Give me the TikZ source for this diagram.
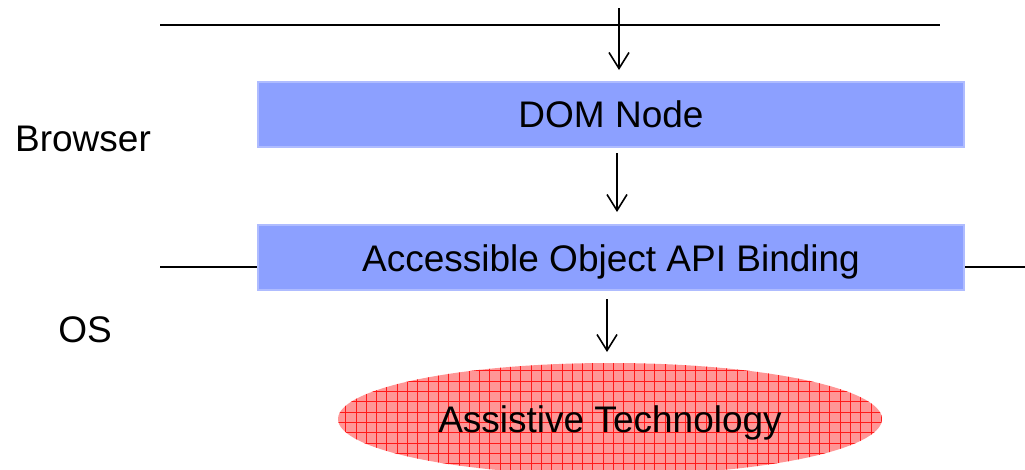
\documentclass[tikz,border=0pt]{standalone}
\usepackage{fontspec}
\setmainfont{Liberation Sans}
\usetikzlibrary{arrows.meta,shapes.geometric}
\definecolor{boxblue}{RGB}{140,160,255}
\definecolor{boxedge}{RGB}{175,188,255}
\definecolor{atpink}{RGB}{255,150,150}
\definecolor{atred}{RGB}{255,25,25}
\tikzset{
  layerbox/.style={draw=boxedge, line width=2pt, fill=boxblue, minimum width=706pt, minimum height=65pt, inner sep=0pt, text height=27pt, text depth=0pt, font=\fontsize{37}{44}\selectfont},
  flowarrow/.style={line width=1.6pt, -{Straight Barb[length=16pt,width=20pt,line width=1.6pt]}},
  sepline/.style={line width=1.6pt},
  lbl/.style={font=\fontsize{37}{44}\selectfont, inner sep=0pt},
  atnode/.style={ellipse, fill=atpink, minimum width=544pt, minimum height=112pt, inner sep=0pt,
    text height=27pt, text depth=0pt, font=\fontsize{37}{44}\selectfont,
    path picture={\draw[atred, line width=0.6pt, shift={(0.5pt,0.5pt)}] (path picture bounding box.south west) grid[step=10.3pt] (path picture bounding box.north east);}}
}
\begin{document}
\begin{tikzpicture}[x=1pt,y=-1pt]
\useasboundingbox (0,0) rectangle (1025,469);
% separator lines
\coordinate (t1) at (160,25);
\coordinate (t2) at (940,25);
\draw[sepline] (t1) -- (t2);
% boxes
\node[layerbox] (dom) at (611,114) {DOM Node};
\node[layerbox] (api) at (611,257.5) {Accessible Object API Binding};
\node[atnode] (at) at (610,419) {Assistive Technology};
% lower separator
\coordinate (l1) at (160,267);
\coordinate (r1) at (1025,267);
\draw[sepline] (l1) -- (api.west |- l1);
\draw[sepline] (api.east |- r1) -- (r1);
% labels
\node[lbl] (browser) at (83,139) {Browser};
\node[lbl] (os) at (85,330) {OS};
% arrows
\coordinate (a0) at (619,8);
\draw[flowarrow] (a0) -- (619,70);
\draw[flowarrow] (617,153) -- (617,212);
\draw[flowarrow] (607,299) -- (607,352);
\end{tikzpicture}
\end{document}
